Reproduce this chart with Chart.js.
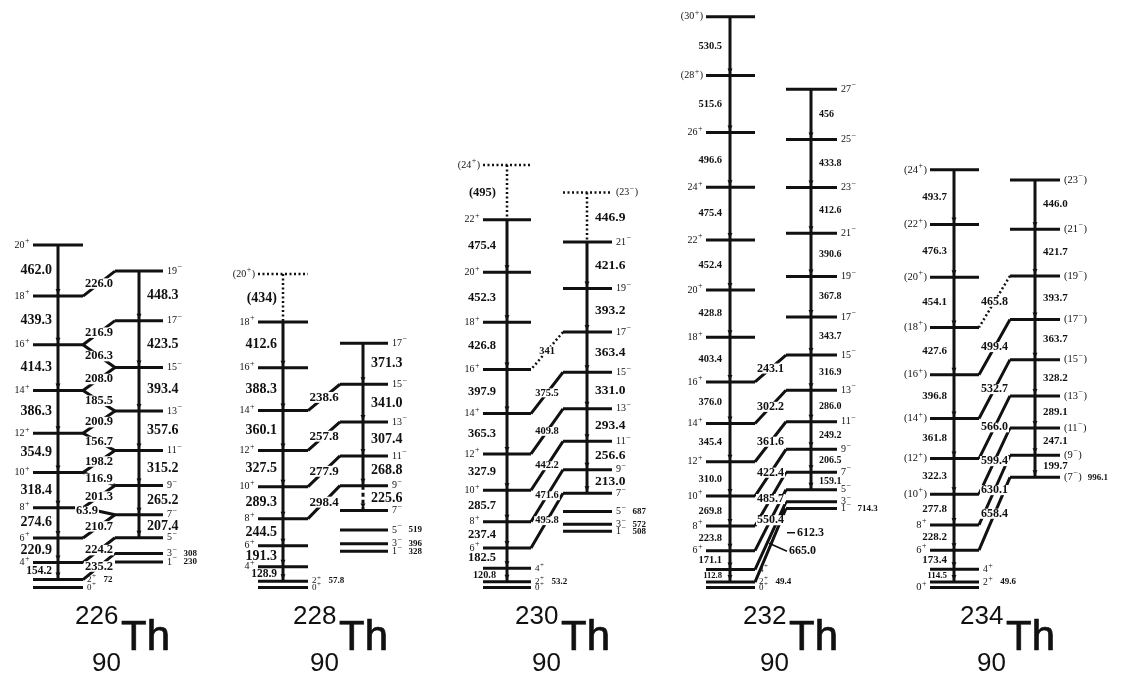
<!DOCTYPE html>
<html>
<head>
<meta charset="utf-8">
<script src="https://cdn.jsdelivr.net/npm/chart.js@4.4.1/dist/chart.umd.min.js"></script>
<style>
  html, body { margin: 0; background: #fff; }
  #wrap { width: 1125px; height: 676px; }
</style>
</head>
<body>
<div id="wrap"><canvas id="chart-th"></canvas></div>
<script>
// Level energies (keV) of the ground-state band (gsb) and the octupole band (neg),
// transition labels as printed, interband links as from -> to.

const th226GsbSpin = ['0+', '2+', '4+', '6+', '8+', '10+', '12+', '14+', '16+', '18+', '20+'];
const th226GsbE = [0, 72, 226.2, 447.1, 721.7, 1040.1, 1395.0, 1781.3, 2195.6, 2634.9, 3096.9];
const th226GsbGamma = [null, null, '154.2', '220.9', '274.6', '318.4', '354.9', '386.3', '414.3', '439.3', '462.0'];
const th226NegSpin = ['1-', '3-', '5-', '7-', '9-', '11-', '13-', '15-', '17-', '19-'];
const th226NegE = [230, 308, 450.4, 657.8, 923.0, 1238.2, 1595.8, 1989.2, 2412.7, 2861.0];
const th226NegGamma = [null, null, null, '207.4', '265.2', '315.2', '357.6', '393.4', '423.5', '448.3'];
const th226LinkFrom = ['3-', '5-', '7-', '8+', '9-', '10+', '11-', '12+', '13-', '14+', '15-', '16+', '17-', '19-'];
const th226LinkTo = ['2+', '4+', '6+', '7-', '8+', '9-', '10+', '11-', '12+', '13-', '14+', '15-', '16+', '18+'];
const th226LinkE = ['235.2', '224.2', '210.7', '63.9', '201.3', '116.9', '198.2', '156.7', '200.9', '185.5', '208.0', '206.3', '216.9', '226.0'];
const th226Tags = [['2+', '72'], ['3-', '308'], ['1-', '230']];

const th228GsbSpin = ['0+', '2+', '4+', '6+', '8+', '10+', '12+', '14+', '16+', '18+', '(20+)'];
const th228GsbE = [0, 57.8, 186.7, 378.0, 622.5, 911.8, 1239.3, 1599.4, 1987.7, 2400.3, 2834.3];
const th228GsbGamma = [null, null, '128.9', '191.3', '244.5', '289.3', '327.5', '360.1', '388.3', '412.6', '(434)'];
const th228NegSpin = ['1-', '3-', '5-', '7-', '9-', '11-', '13-', '15-', '17-'];
const th228NegE = [328, 396, 519, 695.3, 920.9, 1189.7, 1497.1, 1838.1, 2209.4];
const th228NegGamma = [null, null, null, null, '225.6', '268.8', '307.4', '341.0', '371.3'];
const th228LinkFrom = ['9-', '11-', '13-', '15-'];
const th228LinkTo = ['8+', '10+', '12+', '14+'];
const th228LinkE = ['298.4', '277.9', '257.8', '238.6'];
const th228Tags = [['2+', '57.8'], ['5-', '519'], ['3-', '396'], ['1-', '328']];

const th230GsbSpin = ['0+', '2+', '4+', '6+', '8+', '10+', '12+', '14+', '16+', '18+', '20+', '22+', '(24+)'];
const th230GsbE = [0, 53.2, 174.0, 356.5, 593.9, 879.6, 1207.5, 1572.8, 1970.7, 2397.5, 2849.8, 3325.2, 3820.2];
const th230GsbGamma = [null, null, '120.8', '182.5', '237.4', '285.7', '327.9', '365.3', '397.9', '426.8', '452.3', '475.4', '(495)'];
const th230NegSpin = ['1-', '3-', '5-', '7-', '9-', '11-', '13-', '15-', '17-', '19-', '21-', '(23-)'];
const th230NegE = [508, 572, 687, 852.3, 1065.3, 1321.9, 1615.3, 1946.3, 2309.7, 2702.9, 3124.5, 3571.4];
const th230NegGamma = [null, null, null, null, '213.0', '256.6', '293.4', '331.0', '363.4', '393.2', '421.6', '446.9'];
const th230LinkFrom = ['7-', '9-', '11-', '13-', '15-', '17-'];
const th230LinkTo = ['6+', '8+', '10+', '12+', '14+', '16+'];
const th230LinkE = ['495.8', '471.6', '442.2', '409.8', '375.5', '341'];
const th230Tags = [['2+', '53.2'], ['5-', '687'], ['3-', '572'], ['1-', '508']];

const th232GsbSpin = ['0+', '2+', '4+', '6+', '8+', '10+', '12+', '14+', '16+', '18+', '20+', '22+', '24+', '26+', '(28+)', '(30+)'];
const th232GsbE = [0, 49.4, 162.2, 333.3, 557.1, 826.9, 1136.9, 1482.3, 1858.3, 2261.7, 2690.5, 3142.9, 3618.3, 4114.9, 4630.5, 5161.0];
const th232GsbGamma = [null, null, '112.8', '171.1', '223.8', '269.8', '310.0', '345.4', '376.0', '403.4', '428.8', '452.4', '475.4', '496.6', '515.6', '530.5'];
const th232NegSpin = ['1-', '3-', '5-', '7-', '9-', '11-', '13-', '15-', '17-', '19-', '21-', '23-', '25-', '27-'];
const th232NegE = [714.3, 774.4, 883.7, 1042.8, 1249.3, 1498.5, 1784.5, 2101.4, 2445.1, 2812.9, 3203.5, 3616.1, 4049.9, 4505.9];
const th232NegGamma = [null, null, null, '159.1', '206.5', '249.2', '286.0', '316.9', '343.7', '367.8', '390.6', '412.6', '433.8', '456'];
const th232LinkFrom = ['1-', '3-', '5-', '7-', '9-', '11-', '13-', '15-'];
const th232LinkTo = ['2+', '4+', '6+', '8+', '10+', '12+', '14+', '16+'];
const th232LinkE = ['665.0', '612.3', '550.4', '485.7', '422.4', '361.6', '302.2', '243.1'];
const th232Tags = [['2+', '49.4'], ['1-', '714.3']];

const th234GsbSpin = ['0+', '2+', '4+', '6+', '8+', '(10+)', '(12+)', '(14+)', '(16+)', '(18+)', '(20+)', '(22+)', '(24+)'];
const th234GsbE = [0, 49.6, 164.1, 337.5, 565.7, 843.5, 1165.8, 1527.6, 1924.4, 2352.0, 2806.1, 3282.4, 3776.1];
const th234GsbGamma = [null, null, '114.5', '173.4', '228.2', '277.8', '322.3', '361.8', '396.8', '427.6', '454.1', '476.3', '493.7'];
const th234NegSpin = ['(7-)', '(9-)', '(11-)', '(13-)', '(15-)', '(17-)', '(19-)', '(21-)', '(23-)'];
const th234NegE = [996.1, 1195.8, 1442.9, 1732.0, 2060.2, 2423.9, 2817.6, 3239.3, 3685.3];
const th234NegGamma = [null, '199.7', '247.1', '289.1', '328.2', '363.7', '393.7', '421.7', '446.0'];
const th234LinkFrom = ['7-', '9-', '11-', '13-', '15-', '17-', '19-'];
const th234LinkTo = ['6+', '8+', '10+', '12+', '14+', '16+', '18+'];
const th234LinkE = ['658.4', '630.1', '599.4', '566.0', '532.7', '499.4', '465.8'];
const th234Tags = [['2+', '49.6'], ['7-', '996.1']];

// tentative (dotted) levels / links, and the broken 9- -> 7- line in 228Th
const tentativeLevels = ['228:20+', '230:24+', '230:23-'];
const tentativeLinks = ['230:341', '234:465.8'];
const brokenGammas = ['228:225.6'];

const nuclei = ['226', '228', '230', '232', '234'];
const tables = {
  '226': { gsbSpin: th226GsbSpin, gsbE: th226GsbE, gsbGamma: th226GsbGamma, negSpin: th226NegSpin, negE: th226NegE, negGamma: th226NegGamma, from: th226LinkFrom, to: th226LinkTo, linkE: th226LinkE, tags: th226Tags },
  '228': { gsbSpin: th228GsbSpin, gsbE: th228GsbE, gsbGamma: th228GsbGamma, negSpin: th228NegSpin, negE: th228NegE, negGamma: th228NegGamma, from: th228LinkFrom, to: th228LinkTo, linkE: th228LinkE, tags: th228Tags },
  '230': { gsbSpin: th230GsbSpin, gsbE: th230GsbE, gsbGamma: th230GsbGamma, negSpin: th230NegSpin, negE: th230NegE, negGamma: th230NegGamma, from: th230LinkFrom, to: th230LinkTo, linkE: th230LinkE, tags: th230Tags },
  '232': { gsbSpin: th232GsbSpin, gsbE: th232GsbE, gsbGamma: th232GsbGamma, negSpin: th232NegSpin, negE: th232NegE, negGamma: th232NegGamma, from: th232LinkFrom, to: th232LinkTo, linkE: th232LinkE, tags: th232Tags },
  '234': { gsbSpin: th234GsbSpin, gsbE: th234GsbE, gsbGamma: th234GsbGamma, negSpin: th234NegSpin, negE: th234NegE, negGamma: th234NegGamma, from: th234LinkFrom, to: th234LinkTo, linkE: th234LinkE, tags: th234Tags }
};

// column layout (x in page pixels) and label sizes
const layout = {
  '226': { posL: 33, posR: 83, posV: 58, negL: 115, negR: 163, negV: 139, gap: 6, fPos: 14, fNeg: 14, fLink: 12.5, fSpin: 10, titleX: 75, rightSpins: ['0+', '2+'], nudge: { '63.9': [-12, 0] } },
  '228': { posL: 258, posR: 308, posV: 283, negL: 340, negR: 388, negV: 363, gap: 6, fPos: 14, fNeg: 14, fLink: 13, fSpin: 10, titleX: 293, rightSpins: ['0+', '2+'], nudge: {} },
  '230': { posL: 483, posR: 531, posV: 507, negL: 563, negR: 612, negV: 587, gap: 11, fPos: 12.5, fNeg: 13.5, fLink: 10.5, fSpin: 10, titleX: 515, rightSpins: ['0+', '2+', '4+'], nudge: {} },
  '232': { posL: 706, posR: 755, posV: 730, negL: 786, negR: 837, negV: 811, gap: 8, fPos: 10.5, fNeg: 10, fLink: 12, fSpin: 10, titleX: 743, rightSpins: ['0+', '2+', '4+'], nudge: { '612.3': [40, -3, [-8, 0]], '665.0': [32, 6, [-18, -8]] } },
  '234': { posL: 930, posR: 979, posV: 954, negL: 1010, negR: 1060, negV: 1035, gap: 7, fPos: 11, fNeg: 11, fLink: 12, fSpin: 10.5, titleX: 960, rightSpins: ['2+', '4+'], nudge: {} }
};

const ink = '#111';
const bare = s => s.replace(/[()]/g, '');
const isTent = (n, s) => tentativeLevels.includes(n + ':' + bare(s));

function levelE(n, spin) {
  const t = tables[n];
  let i = t.gsbSpin.findIndex(s => bare(s) === spin);
  if (i >= 0) return t.gsbE[i];
  i = t.negSpin.findIndex(s => bare(s) === spin);
  return t.negE[i];
}

// line segments, split by style; null points break the line
const seg = { level: [], levelDot: [], band: [], bandDot: [], bandDash: [], link: [], linkDot: [] };
const push = (arr, x1, y1, x2, y2) => arr.push({ x: x1, y: y1 }, { x: x2, y: y2 }, { x: null, y: null });

nuclei.forEach(n => {
  const t = tables[n], L = layout[n];
  t.gsbSpin.forEach((s, i) => {
    push(isTent(n, s) ? seg.levelDot : seg.level, L.posL, t.gsbE[i], L.posR, t.gsbE[i]);
    if (t.gsbGamma[i] !== null && i > 0)
      push(isTent(n, s) ? seg.bandDot : seg.band, L.posV, t.gsbE[i], L.posV, t.gsbE[i - 1]);
  });
  t.negSpin.forEach((s, i) => {
    push(isTent(n, s) ? seg.levelDot : seg.level, L.negL, t.negE[i], L.negR, t.negE[i]);
    if (t.negGamma[i] !== null && i > 0) {
      const arr = isTent(n, s) ? seg.bandDot : brokenGammas.includes(n + ':' + t.negGamma[i]) ? seg.bandDash : seg.band;
      push(arr, L.negV, t.negE[i], L.negV, t.negE[i - 1]);
    }
  });
  t.from.forEach((f, i) => {
    const xf = f.endsWith('+') ? L.posR : L.negL;
    const xt = t.to[i].endsWith('+') ? L.posR : L.negL;
    const arr = tentativeLinks.includes(n + ':' + t.linkE[i]) ? seg.linkDot : seg.link;
    push(arr, xf, levelE(n, f), xt, levelE(n, t.to[i]));
  });
});

function spinParts(s) {
  const m = s.match(/^(\(?)(\d+)([+-])(\)?)$/);
  return { pre: m[1] + m[2], sign: m[3] === '+' ? '+' : '\u2212', post: m[4] };
}

function drawSpin(ctx, s, px, py, size, align) {
  const p = spinParts(s);
  const big = `${size}px "Liberation Serif"`;
  const small = `${Math.round(size * 0.8)}px "Liberation Serif"`;
  ctx.font = big;
  const w1 = ctx.measureText(p.pre).width, w3 = ctx.measureText(p.post).width;
  ctx.font = small;
  const w2 = ctx.measureText(p.sign).width;
  const w = w1 + w2 + w3 + 1;
  const sx = align === 'right' ? px - w : px;
  ctx.textAlign = 'left';
  ctx.font = big; ctx.fillText(p.pre, sx, py);
  ctx.font = small; ctx.fillText(p.sign, sx + w1 + 0.5, py - size * 0.38);
  ctx.font = big; ctx.fillText(p.post, sx + w1 + w2 + 1, py);
  return sx + w;
}

function arrowHead(ctx, px, py) {
  ctx.beginPath();
  ctx.moveTo(px - 2.5, py - 5);
  ctx.lineTo(px + 2.5, py - 5);
  ctx.lineTo(px, py);
  ctx.closePath();
  ctx.fill();
}

const levelLabels = {
  id: 'levelLabels',
  afterDatasetsDraw(chart) {
    const { ctx, scales: { x, y } } = chart;
    ctx.save();
    ctx.fillStyle = ink;
    ctx.strokeStyle = ink;
    ctx.textBaseline = 'middle';
    nuclei.forEach(n => {
      const t = tables[n], L = layout[n];
      const tagOf = s => (t.tags.find(g => g[0] === bare(s)) || [])[1];

      // interband links: the label sits in a gap cut out of the line
      t.from.forEach((f, i) => {
        const lab = t.linkE[i];
        const nd = L.nudge[lab] || [0, 0];
        const pm = (y.getPixelForValue(levelE(n, f)) + y.getPixelForValue(levelE(n, t.to[i]))) / 2 + nd[1];
        const cx = (x.getPixelForValue(L.posR) + x.getPixelForValue(L.negL)) / 2 + nd[0];
        ctx.font = `bold ${L.fLink}px "Liberation Serif"`;
        const w = ctx.measureText(lab).width;
        if (!nd[2]) {
          ctx.fillStyle = '#fff';
          ctx.fillRect(cx - w / 2 - 1, pm - L.fLink * 0.42, w + 2, L.fLink * 0.84);
          ctx.fillStyle = ink;
        }
        ctx.textAlign = 'center';
        ctx.fillText(lab, cx, pm);
        if (nd[2]) {
          const lx = cx - w / 2 - 2;
          ctx.lineWidth = 1.5;
          ctx.beginPath();
          ctx.moveTo(lx, pm);
          ctx.lineTo(lx + nd[2][0], pm + nd[2][1]);
          ctx.stroke();
        }
      });

      // ground band: spins, gammas, arrow heads
      t.gsbSpin.forEach((s, i) => {
        const py = y.getPixelForValue(t.gsbE[i]);
        let right;
        if (L.rightSpins.includes(bare(s))) right = drawSpin(ctx, s, x.getPixelForValue(L.posR) + 4, py, L.fSpin - 1, 'left');
        else drawSpin(ctx, s, x.getPixelForValue(L.posL) - 3, py, L.fSpin, 'right');
        const tag = tagOf(s);
        if (tag && right) {
          ctx.font = `bold 9px "Liberation Serif"`;
          ctx.textAlign = 'left';
          ctx.fillText(tag, right + 7, py);
        }
        if (i > 1 && t.gsbGamma[i] !== null) {
          const py0 = y.getPixelForValue(t.gsbE[i - 1]);
          const size = i === 2 ? L.fPos * 0.82 : L.fPos;
          ctx.font = `bold ${size}px "Liberation Serif"`;
          ctx.textAlign = 'right';
          ctx.fillText(t.gsbGamma[i], x.getPixelForValue(L.posV) - L.gap, (py + py0) / 2);
          if (!isTent(n, s)) arrowHead(ctx, x.getPixelForValue(L.posV), py0 - 2);
        }
      });

      // octupole band
      t.negSpin.forEach((s, i) => {
        const py = y.getPixelForValue(t.negE[i]);
        const right = drawSpin(ctx, s, x.getPixelForValue(L.negR) + 4, py, L.fSpin, 'left');
        const tag = tagOf(s);
        if (tag) {
          ctx.font = `bold 9px "Liberation Serif"`;
          ctx.textAlign = 'left';
          ctx.fillText(tag, right + 6, py);
        }
        if (i > 0 && t.negGamma[i] !== null) {
          const py0 = y.getPixelForValue(t.negE[i - 1]);
          ctx.font = `bold ${L.fNeg}px "Liberation Serif"`;
          ctx.textAlign = 'left';
          ctx.fillText(t.negGamma[i], x.getPixelForValue(L.negV) + 8, (py + py0) / 2);
          if (!isTent(n, s)) arrowHead(ctx, x.getPixelForValue(L.negV), py0 - 2);
        }
      });

      // nucleus title
      const tx = x.getPixelForValue(L.titleX);
      const base = chart.chartArea.bottom;
      ctx.textAlign = 'left';
      ctx.textBaseline = 'alphabetic';
      ctx.lineWidth = 0.7;
      ctx.font = '26px "Liberation Sans"';
      ctx.fillText(n, tx, base - 52);
      ctx.fillText('90', tx + 17, base - 5);
      ctx.font = '42px "Liberation Sans"';
      ctx.fillText('Th', tx + 46, base - 26);
      ctx.strokeText('Th', tx + 46, base - 26);
      ctx.textBaseline = 'middle';
    });
    ctx.restore();
  }
};

const lineSet = (label, points, width, dash) => ({
  label, data: points, showLine: true, borderColor: ink, borderWidth: width,
  borderDash: dash || [], borderCapStyle: 'butt', pointRadius: 0, spanGaps: false
});

new Chart(document.getElementById('chart-th'), {
  type: 'scatter',
  data: {
    datasets: [
      lineSet('levels', seg.level, 3),
      lineSet('tentative levels', seg.levelDot, 2.5, [2, 2.5]),
      lineSet('band transitions', seg.band, 3),
      lineSet('tentative band transitions', seg.bandDot, 2.5, [2, 2.5]),
      lineSet('broken band transitions', seg.bandDash, 3, [4, 3]),
      lineSet('interband', seg.link, 3),
      lineSet('tentative interband', seg.linkDot, 2.5, [2, 2.5])
    ]
  },
  options: {
    responsive: true, maintainAspectRatio: false, animation: false, events: [],
    layout: { padding: 0 },
    plugins: { legend: { display: false }, tooltip: { enabled: false } },
    scales: {
      x: { type: 'linear', min: 0, max: 1125, display: false },
      y: { type: 'linear', min: -800, max: 5312, display: false }
    }
  },
  plugins: [levelLabels]
});
</script>
</body>
</html>
